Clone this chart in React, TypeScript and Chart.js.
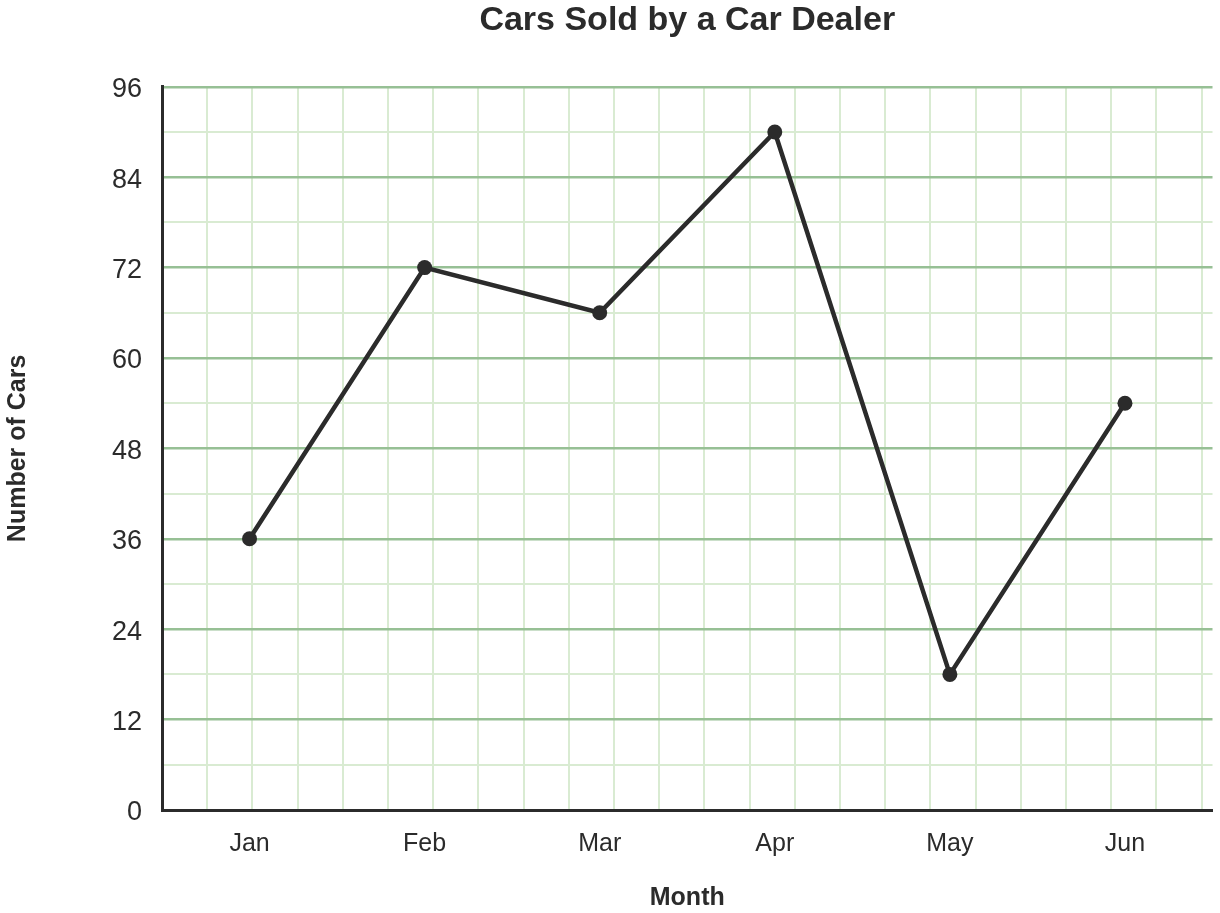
import React, { useEffect, useRef } from "react";
import { Chart, registerables } from "chart.js";

Chart.register(...registerables);

const months = ["Jan", "Feb", "Mar", "Apr", "May", "Jun"];
const carsSold = [36, 72, 66, 90, 18, 54];
const yMin = 0;
const yMax = 96;
const yMajorStep = 12;
const yMinorStep = 6;
const gridColumns = 23.24;

const FONT = "'Liberation Sans', Arial, sans-serif";
const TEXT = "#2b2b2b";
const MAJOR = "#97c095";
const MINOR = "#d9ebd2";

export default function App() {
  const ref = useRef<HTMLCanvasElement | null>(null);

  useEffect(() => {
    document.body.style.margin = "0";
    const canvas = ref.current;
    if (!canvas) return;
    const chart = new Chart(canvas, {
      type: "line",
      data: {
        labels: months,
        datasets: [
          {
            label: "Cars Sold",
            data: carsSold,
            borderColor: TEXT,
            backgroundColor: TEXT,
            borderWidth: 4.5,
            pointRadius: 7.5,
            pointHoverRadius: 7.5,
            pointBackgroundColor: TEXT,
            pointBorderWidth: 0,
            tension: 0,
            xAxisID: "x",
            yAxisID: "y",
          },
        ],
      },
      options: {
        responsive: false,
        animation: false,
        layout: { padding: { top: 0, right: 6, bottom: 0, left: 0 } },
        plugins: {
          legend: { display: false },
          tooltip: { enabled: false },
          title: {
            display: true,
            text: "Cars Sold by a Car Dealer",
            fullSize: false,
            color: TEXT,
            font: { family: FONT, size: 34, weight: "bold" },
            padding: { top: 0, bottom: 46 },
          },
        },
        scales: {
          x: {
            type: "category",
            position: "bottom",
            offset: true,
            grid: { display: false, drawTicks: false },
            border: { display: true, color: TEXT, width: 3 },
            ticks: {
              color: TEXT,
              font: { family: FONT, size: 25 },
              padding: 19,
              maxRotation: 0,
            },
            title: {
              display: true,
              text: "Month",
              color: TEXT,
              font: { family: FONT, size: 25, weight: "bold" },
              padding: { top: 0, bottom: 0 },
            },
            afterFit: (s: any) => {
              s.height = 103;
            },
          },
          xg: {
            type: "linear",
            position: "top",
            min: 0,
            max: gridColumns,
            grid: {
              drawTicks: false,
              lineWidth: 2,
              color: (c: any) => (c.tick && c.tick.value === 0 ? "rgba(0,0,0,0)" : MINOR),
            },
            border: { display: false },
            ticks: { display: false, stepSize: 1, includeBounds: false },
            afterFit: (s: any) => {
              s.height = 0;
            },
          },
          y: {
            type: "linear",
            position: "left",
            min: yMin,
            max: yMax,
            grid: {
              drawTicks: false,
              lineWidth: (c: any) => {
                const v = c.tick ? c.tick.value : 0;
                return v % yMajorStep === 0 ? 2.5 : 2;
              },
              color: (c: any) => {
                const v = c.tick ? c.tick.value : 0;
                if (v === 0) return "rgba(0,0,0,0)";
                return v % yMajorStep === 0 ? MAJOR : MINOR;
              },
            },
            border: { display: true, color: TEXT, width: 3 },
            ticks: {
              stepSize: yMinorStep,
              color: TEXT,
              font: { family: FONT, size: 27 },
              padding: 20,
              labelOffset: 3,
              callback: (v: any) => (Number(v) % yMajorStep === 0 ? String(v) : ""),
            },
            title: {
              display: true,
              text: "Number of Cars",
              color: TEXT,
              font: { family: FONT, size: 25, weight: "bold" },
              padding: { top: 3, bottom: 0 },
            },
            afterFit: (s: any) => {
              s.width = 162;
            },
          },
        },
      },
    });
    return () => chart.destroy();
  }, []);

  return (
    <div style={{ position: "absolute", left: 0, top: 0, width: 1220, height: 913 }}>
      <canvas ref={ref} width={1220} height={913} style={{ display: "block" }} />
    </div>
  );
}
